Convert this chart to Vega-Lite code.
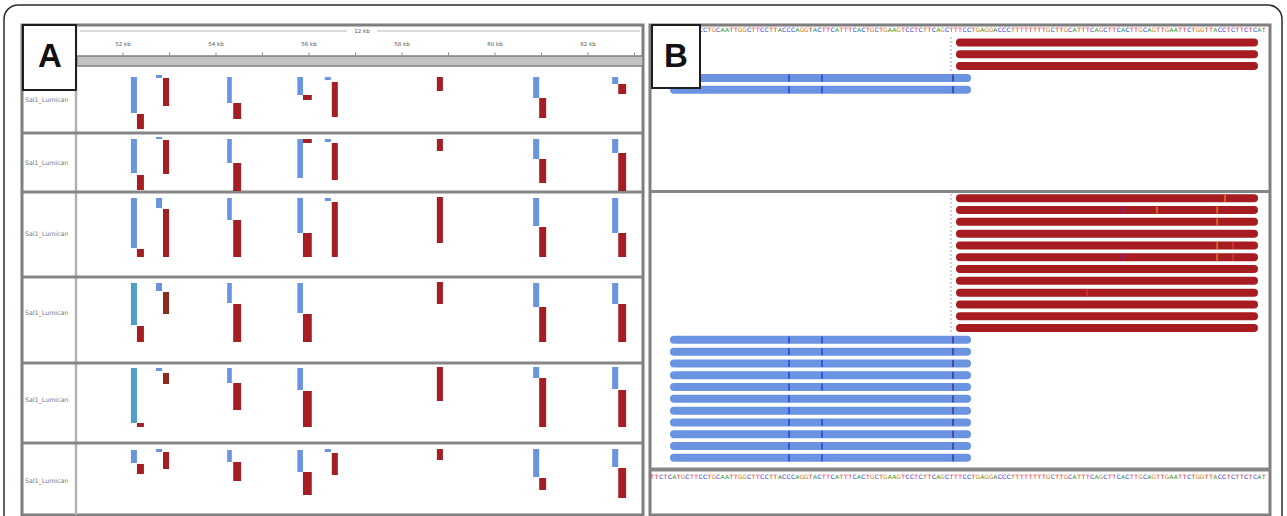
{
"$schema":"https://vega.github.io/schema/vega-lite/v6.json",
"width":1287,"height":516,"autosize":"none","padding":0,"background":"white",
"config":{"view":{"stroke":null},"text":{"font":"DejaVu Sans"}},
"datasets":{
"ruler":[{"kb":52,"lab":"52 kb"},{"kb":53,"lab":""},{"kb":54,"lab":"54 kb"},{"kb":55,"lab":""},{"kb":56,"lab":"56 kb"},{"kb":57,"lab":""},{"kb":58,"lab":"58 kb"},{"kb":59,"lab":""},{"kb":60,"lab":"60 kb"},{"kb":61,"lab":""},{"kb":62,"lab":"62 kb"},{"kb":63,"lab":""}],
"tracks":[{"track":1,"label":"Sal1_Lumican","bottom":13.4,"mid":6.8},{"track":2,"label":"Sal1_Lumican","bottom":25.2,"mid":19.4},{"track":3,"label":"Sal1_Lumican","bottom":42.2,"mid":33.6},{"track":4,"label":"Sal1_Lumican","bottom":59.4,"mid":49.4},{"track":5,"label":"Sal1_Lumican","bottom":75.4,"mid":66.8},{"track":6,"label":"Sal1_Lumican","bottom":89.8,"mid":83.0}],
"bars":[
{"t":1,"x0":52.17,"x1":52.3,"y0":2.2,"y1":9.4,"c":"F"},{"t":1,"x0":52.3,"x1":52.45,"y0":9.6,"y1":12.6,"c":"R"},{"t":1,"x0":52.71,"x1":52.84,"y0":1.8,"y1":2.4,"c":"F"},{"t":1,"x0":52.86,"x1":52.99,"y0":2.4,"y1":8.0,"c":"R"},{"t":1,"x0":54.24,"x1":54.34,"y0":2.2,"y1":7.4,"c":"F"},{"t":1,"x0":54.37,"x1":54.54,"y0":7.4,"y1":10.6,"c":"R"},{"t":1,"x0":55.75,"x1":55.87,"y0":2.2,"y1":5.8,"c":"F"},{"t":1,"x0":55.87,"x1":56.06,"y0":5.8,"y1":6.8,"c":"R"},{"t":1,"x0":56.34,"x1":56.47,"y0":2.2,"y1":2.8,"c":"F"},{"t":1,"x0":56.49,"x1":56.62,"y0":3.2,"y1":10.2,"c":"R"},{"t":1,"x0":58.75,"x1":58.88,"y0":2.2,"y1":5.0,"c":"R"},{"t":1,"x0":60.82,"x1":60.95,"y0":2.2,"y1":6.4,"c":"F"},{"t":1,"x0":60.95,"x1":61.1,"y0":6.4,"y1":10.4,"c":"R"},{"t":1,"x0":62.52,"x1":62.65,"y0":2.2,"y1":3.6,"c":"F"},{"t":1,"x0":62.65,"x1":62.82,"y0":3.6,"y1":5.6,"c":"R"},
{"t":2,"x0":52.17,"x1":52.3,"y0":14.6,"y1":21.4,"c":"F"},{"t":2,"x0":52.3,"x1":52.45,"y0":21.8,"y1":24.8,"c":"R"},{"t":2,"x0":52.71,"x1":52.84,"y0":14.2,"y1":14.6,"c":"F"},{"t":2,"x0":52.86,"x1":52.99,"y0":14.8,"y1":21.6,"c":"R"},{"t":2,"x0":54.24,"x1":54.34,"y0":14.6,"y1":19.4,"c":"F"},{"t":2,"x0":54.37,"x1":54.54,"y0":19.4,"y1":25.0,"c":"R"},{"t":2,"x0":55.75,"x1":55.87,"y0":14.6,"y1":22.4,"c":"F"},{"t":2,"x0":55.87,"x1":56.06,"y0":14.6,"y1":15.4,"c":"R"},{"t":2,"x0":56.34,"x1":56.47,"y0":14.6,"y1":15.2,"c":"F"},{"t":2,"x0":56.49,"x1":56.62,"y0":15.4,"y1":22.8,"c":"R"},{"t":2,"x0":58.75,"x1":58.88,"y0":14.6,"y1":17.0,"c":"R"},{"t":2,"x0":60.82,"x1":60.95,"y0":14.6,"y1":18.6,"c":"F"},{"t":2,"x0":60.95,"x1":61.1,"y0":18.6,"y1":23.4,"c":"R"},{"t":2,"x0":62.52,"x1":62.65,"y0":14.6,"y1":17.4,"c":"F"},{"t":2,"x0":62.65,"x1":62.82,"y0":17.4,"y1":25.0,"c":"R"},
{"t":3,"x0":52.17,"x1":52.3,"y0":26.4,"y1":36.4,"c":"F"},{"t":3,"x0":52.3,"x1":52.45,"y0":36.6,"y1":38.2,"c":"R"},{"t":3,"x0":52.71,"x1":52.84,"y0":26.4,"y1":28.4,"c":"F"},{"t":3,"x0":52.86,"x1":52.99,"y0":28.6,"y1":38.2,"c":"R"},{"t":3,"x0":54.24,"x1":54.34,"y0":26.4,"y1":30.8,"c":"F"},{"t":3,"x0":54.37,"x1":54.54,"y0":30.8,"y1":38.2,"c":"R"},{"t":3,"x0":55.75,"x1":55.87,"y0":26.4,"y1":33.4,"c":"F"},{"t":3,"x0":55.87,"x1":56.06,"y0":33.4,"y1":38.2,"c":"R"},{"t":3,"x0":56.34,"x1":56.47,"y0":26.4,"y1":27.0,"c":"F"},{"t":3,"x0":56.49,"x1":56.62,"y0":27.2,"y1":38.2,"c":"R"},{"t":3,"x0":58.75,"x1":58.88,"y0":26.2,"y1":35.4,"c":"R"},{"t":3,"x0":60.82,"x1":60.95,"y0":26.4,"y1":32.0,"c":"F"},{"t":3,"x0":60.95,"x1":61.1,"y0":32.2,"y1":38.2,"c":"R"},{"t":3,"x0":62.52,"x1":62.65,"y0":26.4,"y1":33.4,"c":"F"},{"t":3,"x0":62.65,"x1":62.82,"y0":33.4,"y1":38.2,"c":"R"},
{"t":4,"x0":52.17,"x1":52.3,"y0":43.4,"y1":51.8,"c":"F2"},{"t":4,"x0":52.3,"x1":52.45,"y0":52.0,"y1":55.2,"c":"R"},{"t":4,"x0":52.71,"x1":52.84,"y0":43.4,"y1":45.0,"c":"F"},{"t":4,"x0":52.86,"x1":52.99,"y0":45.2,"y1":49.6,"c":"R2"},{"t":4,"x0":54.24,"x1":54.34,"y0":43.4,"y1":47.4,"c":"F"},{"t":4,"x0":54.37,"x1":54.54,"y0":47.6,"y1":55.2,"c":"R"},{"t":4,"x0":55.75,"x1":55.87,"y0":43.4,"y1":49.4,"c":"F"},{"t":4,"x0":55.87,"x1":56.06,"y0":49.6,"y1":55.2,"c":"R"},{"t":4,"x0":58.75,"x1":58.88,"y0":43.2,"y1":47.6,"c":"R"},{"t":4,"x0":60.82,"x1":60.95,"y0":43.4,"y1":48.2,"c":"F"},{"t":4,"x0":60.95,"x1":61.1,"y0":48.2,"y1":55.2,"c":"R"},{"t":4,"x0":62.52,"x1":62.65,"y0":43.4,"y1":47.6,"c":"F"},{"t":4,"x0":62.65,"x1":62.82,"y0":47.6,"y1":55.2,"c":"R"},
{"t":5,"x0":52.17,"x1":52.3,"y0":60.4,"y1":71.4,"c":"F2"},{"t":5,"x0":52.3,"x1":52.45,"y0":71.4,"y1":72.2,"c":"R"},{"t":5,"x0":52.71,"x1":52.84,"y0":60.4,"y1":61.0,"c":"F"},{"t":5,"x0":52.86,"x1":52.99,"y0":61.4,"y1":63.6,"c":"R2"},{"t":5,"x0":54.24,"x1":54.34,"y0":60.4,"y1":63.4,"c":"F"},{"t":5,"x0":54.37,"x1":54.54,"y0":63.4,"y1":68.8,"c":"R"},{"t":5,"x0":55.75,"x1":55.87,"y0":60.4,"y1":64.8,"c":"F"},{"t":5,"x0":55.87,"x1":56.06,"y0":65.0,"y1":72.2,"c":"R"},{"t":5,"x0":58.75,"x1":58.88,"y0":60.2,"y1":67.0,"c":"R"},{"t":5,"x0":60.82,"x1":60.95,"y0":60.2,"y1":62.4,"c":"F"},{"t":5,"x0":60.95,"x1":61.1,"y0":62.4,"y1":72.2,"c":"R"},{"t":5,"x0":62.52,"x1":62.65,"y0":60.2,"y1":64.6,"c":"F"},{"t":5,"x0":62.65,"x1":62.82,"y0":64.8,"y1":72.2,"c":"R"},
{"t":6,"x0":52.17,"x1":52.3,"y0":76.8,"y1":79.4,"c":"F"},{"t":6,"x0":52.3,"x1":52.45,"y0":79.6,"y1":81.6,"c":"R"},{"t":6,"x0":52.71,"x1":52.84,"y0":76.6,"y1":77.2,"c":"F"},{"t":6,"x0":52.86,"x1":52.99,"y0":77.2,"y1":80.6,"c":"R"},{"t":6,"x0":54.24,"x1":54.34,"y0":76.8,"y1":79.2,"c":"F"},{"t":6,"x0":54.37,"x1":54.54,"y0":79.2,"y1":83.0,"c":"R"},{"t":6,"x0":55.75,"x1":55.87,"y0":76.8,"y1":81.2,"c":"F"},{"t":6,"x0":55.87,"x1":56.06,"y0":81.2,"y1":85.8,"c":"R"},{"t":6,"x0":56.34,"x1":56.47,"y0":76.6,"y1":77.2,"c":"F"},{"t":6,"x0":56.49,"x1":56.62,"y0":77.4,"y1":81.8,"c":"R"},{"t":6,"x0":58.75,"x1":58.88,"y0":76.6,"y1":78.8,"c":"R"},{"t":6,"x0":60.82,"x1":60.95,"y0":76.6,"y1":82.2,"c":"F"},{"t":6,"x0":60.95,"x1":61.1,"y0":82.4,"y1":84.8,"c":"R"},{"t":6,"x0":62.52,"x1":62.65,"y0":76.6,"y1":80.2,"c":"F"},{"t":6,"x0":62.65,"x1":62.82,"y0":80.4,"y1":86.4,"c":"R"}
],
"seq":[{"i":1,"b":"T"},{"i":2,"b":"T"},{"i":3,"b":"C"},{"i":4,"b":"T"},{"i":5,"b":"C"},{"i":6,"b":"A"},{"i":7,"b":"T"},{"i":8,"b":"G"},{"i":9,"b":"C"},{"i":10,"b":"T"},{"i":11,"b":"T"},{"i":12,"b":"C"},{"i":13,"b":"C"},{"i":14,"b":"T"},{"i":15,"b":"G"},{"i":16,"b":"C"},{"i":17,"b":"A"},{"i":18,"b":"A"},{"i":19,"b":"T"},{"i":20,"b":"T"},{"i":21,"b":"G"},{"i":22,"b":"G"},{"i":23,"b":"C"},{"i":24,"b":"T"},{"i":25,"b":"T"},{"i":26,"b":"C"},{"i":27,"b":"C"},{"i":28,"b":"T"},{"i":29,"b":"T"},{"i":30,"b":"A"},{"i":31,"b":"C"},{"i":32,"b":"C"},{"i":33,"b":"C"},{"i":34,"b":"A"},{"i":35,"b":"G"},{"i":36,"b":"G"},{"i":37,"b":"T"},{"i":38,"b":"A"},{"i":39,"b":"C"},{"i":40,"b":"T"},{"i":41,"b":"T"},{"i":42,"b":"C"},{"i":43,"b":"A"},{"i":44,"b":"T"},{"i":45,"b":"T"},{"i":46,"b":"T"},{"i":47,"b":"C"},{"i":48,"b":"A"},{"i":49,"b":"C"},{"i":50,"b":"T"},{"i":51,"b":"G"},{"i":52,"b":"C"},{"i":53,"b":"T"},{"i":54,"b":"G"},{"i":55,"b":"A"},{"i":56,"b":"A"},{"i":57,"b":"G"},{"i":58,"b":"T"},{"i":59,"b":"C"},{"i":60,"b":"C"},{"i":61,"b":"T"},{"i":62,"b":"C"},{"i":63,"b":"T"},{"i":64,"b":"T"},{"i":65,"b":"C"},{"i":66,"b":"A"},{"i":67,"b":"G"},{"i":68,"b":"C"},{"i":69,"b":"T"},{"i":70,"b":"T"},{"i":71,"b":"T"},{"i":72,"b":"C"},{"i":73,"b":"C"},{"i":74,"b":"T"},{"i":75,"b":"G"},{"i":76,"b":"A"},{"i":77,"b":"G"},{"i":78,"b":"G"},{"i":79,"b":"A"},{"i":80,"b":"C"},{"i":81,"b":"C"},{"i":82,"b":"C"},{"i":83,"b":"T"},{"i":84,"b":"T"},{"i":85,"b":"T"},{"i":86,"b":"T"},{"i":87,"b":"T"},{"i":88,"b":"T"},{"i":89,"b":"T"},{"i":90,"b":"T"},{"i":91,"b":"G"},{"i":92,"b":"C"},{"i":93,"b":"T"},{"i":94,"b":"T"},{"i":95,"b":"G"},{"i":96,"b":"C"},{"i":97,"b":"A"},{"i":98,"b":"T"},{"i":99,"b":"T"},{"i":100,"b":"T"},{"i":101,"b":"C"},{"i":102,"b":"A"},{"i":103,"b":"G"},{"i":104,"b":"C"},{"i":105,"b":"T"},{"i":106,"b":"T"},{"i":107,"b":"C"},{"i":108,"b":"A"},{"i":109,"b":"C"},{"i":110,"b":"T"},{"i":111,"b":"T"},{"i":112,"b":"G"},{"i":113,"b":"C"},{"i":114,"b":"A"},{"i":115,"b":"G"},{"i":116,"b":"T"},{"i":117,"b":"T"},{"i":118,"b":"G"},{"i":119,"b":"A"},{"i":120,"b":"A"},{"i":121,"b":"T"},{"i":122,"b":"T"},{"i":123,"b":"C"},{"i":124,"b":"T"},{"i":125,"b":"G"},{"i":126,"b":"G"},{"i":127,"b":"T"},{"i":128,"b":"T"},{"i":129,"b":"A"},{"i":130,"b":"C"},{"i":131,"b":"C"},{"i":132,"b":"T"},{"i":133,"b":"C"},{"i":134,"b":"T"},{"i":135,"b":"T"},{"i":136,"b":"C"},{"i":137,"b":"T"},{"i":138,"b":"C"},{"i":139,"b":"A"},{"i":140,"b":"T"}],
"reads":[{"lane":1,"start":70.95,"end":137.77,"s":"R"},{"lane":2,"start":70.95,"end":137.77,"s":"R"},{"lane":3,"start":70.95,"end":137.77,"s":"R"},{"lane":4,"start":5.95,"end":72.55,"s":"F"},{"lane":5,"start":5.95,"end":72.55,"s":"F"},
{"lane":14.2,"start":70.95,"end":137.77,"s":"R"},{"lane":15.2,"start":70.95,"end":137.77,"s":"R"},{"lane":16.2,"start":70.95,"end":137.77,"s":"R"},{"lane":17.2,"start":70.95,"end":137.77,"s":"R"},{"lane":18.2,"start":70.95,"end":137.77,"s":"R"},{"lane":19.2,"start":70.95,"end":137.77,"s":"R"},{"lane":20.2,"start":70.95,"end":137.77,"s":"R"},{"lane":21.2,"start":70.95,"end":137.77,"s":"R"},{"lane":22.2,"start":70.95,"end":137.77,"s":"R"},{"lane":23.2,"start":70.95,"end":137.77,"s":"R"},{"lane":24.2,"start":70.95,"end":137.77,"s":"R"},{"lane":25.2,"start":70.95,"end":137.77,"s":"R"},
{"lane":26.2,"start":5.95,"end":72.55,"s":"F"},{"lane":27.2,"start":5.95,"end":72.55,"s":"F"},{"lane":28.2,"start":5.95,"end":72.55,"s":"F"},{"lane":29.2,"start":5.95,"end":72.55,"s":"F"},{"lane":30.2,"start":5.95,"end":72.55,"s":"F"},{"lane":31.2,"start":5.95,"end":72.55,"s":"F"},{"lane":32.2,"start":5.95,"end":72.55,"s":"F"},{"lane":33.2,"start":5.95,"end":72.55,"s":"F"},{"lane":34.2,"start":5.95,"end":72.55,"s":"F"},{"lane":35.2,"start":5.95,"end":72.55,"s":"F"},{"lane":36.2,"start":5.95,"end":72.55,"s":"F"}],
"marks":[
{"lane":4,"bp":32.09,"k":"C"},{"lane":4,"bp":39.59,"k":"C"},{"lane":4,"bp":69.36,"k":"I"},{"lane":5,"bp":32.09,"k":"C"},{"lane":5,"bp":39.59,"k":"C"},{"lane":5,"bp":69.36,"k":"I"},
{"lane":26.2,"bp":32.09,"k":"C"},{"lane":26.2,"bp":39.59,"k":"C"},{"lane":26.2,"bp":69.36,"k":"I"},
{"lane":27.2,"bp":32.09,"k":"C"},{"lane":27.2,"bp":39.59,"k":"C"},{"lane":27.2,"bp":69.36,"k":"I"},
{"lane":28.2,"bp":32.09,"k":"C"},{"lane":28.2,"bp":39.59,"k":"C"},{"lane":28.2,"bp":69.36,"k":"I"},
{"lane":29.2,"bp":32.09,"k":"C"},{"lane":29.2,"bp":39.59,"k":"C"},{"lane":29.2,"bp":69.36,"k":"I"},
{"lane":30.2,"bp":32.09,"k":"C"},{"lane":30.2,"bp":39.59,"k":"C"},{"lane":30.2,"bp":69.36,"k":"I"},
{"lane":31.2,"bp":32.09,"k":"C"},{"lane":31.2,"bp":69.36,"k":"I"},
{"lane":32.2,"bp":32.09,"k":"C"},{"lane":32.2,"bp":69.36,"k":"I"},
{"lane":33.2,"bp":32.09,"k":"C"},{"lane":33.2,"bp":39.59,"k":"C"},{"lane":33.2,"bp":69.36,"k":"I"},
{"lane":34.2,"bp":32.09,"k":"C"},{"lane":34.2,"bp":39.59,"k":"C"},{"lane":34.2,"bp":69.36,"k":"I"},
{"lane":35.2,"bp":32.09,"k":"C"},{"lane":35.2,"bp":39.59,"k":"C"},{"lane":35.2,"bp":69.36,"k":"I"},
{"lane":36.2,"bp":32.09,"k":"C"},{"lane":36.2,"bp":39.59,"k":"C"},{"lane":36.2,"bp":69.36,"k":"I"},
{"lane":14.2,"bp":131.2,"k":"G"},
{"lane":15.2,"bp":108.0,"k":"P"},{"lane":15.2,"bp":115.7,"k":"G"},{"lane":15.2,"bp":129.4,"k":"G"},
{"lane":16.2,"bp":129.4,"k":"G"},
{"lane":18.2,"bp":129.4,"k":"G"},{"lane":18.2,"bp":133.0,"k":"T"},
{"lane":19.2,"bp":108.0,"k":"P"},{"lane":19.2,"bp":129.4,"k":"G"},{"lane":19.2,"bp":133.0,"k":"T"},
{"lane":22.2,"bp":99.8,"k":"T"}
]
},
"layer":[
{
"layer":[
{"data":{"values":[{}]},"mark":{"type":"rect","fill":"transparent","stroke":"#2b2b2b","strokeWidth":1.5,"cornerRadius":14},
 "encoding":{"x":{"datum":49.441,"type":"quantitative","scale":{"domain":[49.3548,77.0323],"nice":false,"zero":false},"axis":null},"x2":{"datum":76.925},
 "y":{"datum":-12.2,"type":"quantitative","scale":{"domain":[-13.2,90],"reverse":true,"nice":false,"zero":false},"axis":null},"y2":{"datum":95.8}}},
{"data":{"values":[{}]},"mark":{"type":"rect","fill":"white","stroke":"#7f7f7f","strokeWidth":3},
 "encoding":{"x":{"datum":49.828,"type":"quantitative","scale":{"domain":[49.3548,77.0323],"nice":false,"zero":false},"axis":null},"x2":{"datum":63.183},
 "y":{"datum":-8.2,"type":"quantitative","scale":{"domain":[-13.2,90],"reverse":true,"nice":false,"zero":false},"axis":null},"y2":{"datum":89.8}}},
{"data":{"values":[{}]},"mark":{"type":"rect","fill":"#c2c2c2","stroke":"#7f7f7f","strokeWidth":1.5},
 "encoding":{"x":{"datum":51.011,"type":"quantitative","scale":{"domain":[49.3548,77.0323],"nice":false,"zero":false},"axis":null},"x2":{"datum":63.183},
 "y":{"datum":-2,"type":"quantitative","scale":{"domain":[-13.2,90],"reverse":true,"nice":false,"zero":false},"axis":null},"y2":{"datum":0}}},
{"data":{"values":[{"a":51.075,"b":56.817},{"a":57.462,"b":63.118}]},"mark":{"type":"rule","color":"#b5b5b5","strokeWidth":1.2},
 "encoding":{"x":{"field":"a","type":"quantitative","scale":{"domain":[49.3548,77.0323],"nice":false,"zero":false},"axis":null},"x2":{"field":"b"},
 "y":{"datum":-7.0,"type":"quantitative","scale":{"domain":[-13.2,90],"reverse":true,"nice":false,"zero":false},"axis":null}}},
{"data":{"values":[{"span":"12 kb"}]},"mark":{"type":"text","fontSize":5.5,"color":"#555","baseline":"middle","align":"center"},
 "encoding":{"x":{"datum":57.14,"type":"quantitative","scale":{"domain":[49.3548,77.0323],"nice":false,"zero":false},"axis":null},
 "y":{"datum":-7.0,"type":"quantitative","scale":{"domain":[-13.2,90],"reverse":true,"nice":false,"zero":false},"axis":null},"text":{"field":"span"}}},
{"data":{"name":"ruler"},"mark":{"type":"rule","color":"#8a8a8a","strokeWidth":1},
 "encoding":{"x":{"field":"kb","type":"quantitative","scale":{"domain":[49.3548,77.0323],"nice":false,"zero":false},"axis":null},
 "y":{"datum":-2.7,"type":"quantitative","scale":{"domain":[-13.2,90],"reverse":true,"nice":false,"zero":false},"axis":null},"y2":{"datum":-2.1}}},
{"data":{"name":"ruler"},"mark":{"type":"text","fontSize":5.5,"color":"#555","baseline":"middle","align":"center"},
 "encoding":{"x":{"field":"kb","type":"quantitative","scale":{"domain":[49.3548,77.0323],"nice":false,"zero":false},"axis":null},
 "y":{"datum":-4.4,"type":"quantitative","scale":{"domain":[-13.2,90],"reverse":true,"nice":false,"zero":false},"axis":null},"text":{"field":"lab"}}},
{"data":{"values":[{}]},"mark":{"type":"rule","color":"#b3b3b3","strokeWidth":2.5},
 "encoding":{"x":{"datum":50.989,"type":"quantitative","scale":{"domain":[49.3548,77.0323],"nice":false,"zero":false},"axis":null},
 "y":{"datum":-8.2,"type":"quantitative","scale":{"domain":[-13.2,90],"reverse":true,"nice":false,"zero":false},"axis":null},"y2":{"datum":89.8}}},
{"data":{"name":"tracks"},"transform":[{"filter":"datum.track < 6"}],"mark":{"type":"rule","color":"#868686","strokeWidth":3},
 "encoding":{"x":{"datum":49.828,"type":"quantitative","scale":{"domain":[49.3548,77.0323],"nice":false,"zero":false},"axis":null},"x2":{"datum":63.183},
 "y":{"field":"bottom","type":"quantitative","scale":{"domain":[-13.2,90],"reverse":true,"nice":false,"zero":false},"axis":null}}},
{"data":{"name":"tracks"},"mark":{"type":"text","fontSize":6.3,"color":"#7a7a7a","align":"left","baseline":"middle"},
 "encoding":{"x":{"datum":49.892,"type":"quantitative","scale":{"domain":[49.3548,77.0323],"nice":false,"zero":false},"axis":null},
 "y":{"field":"mid","type":"quantitative","scale":{"domain":[-13.2,90],"reverse":true,"nice":false,"zero":false},"axis":null},"text":{"field":"label"}}},
{"data":{"name":"bars"},"mark":{"type":"rect"},
 "encoding":{"x":{"field":"x0","type":"quantitative","scale":{"domain":[49.3548,77.0323],"nice":false,"zero":false},"axis":null},
  "x2":{"field":"x1"},
  "y":{"field":"y0","type":"quantitative","scale":{"domain":[-13.2,90],"reverse":true,"nice":false,"zero":false},"axis":null},"y2":{"field":"y1"},
  "color":{"field":"c","type":"nominal","scale":{"domain":["F","R","F2","R2"],"range":["#6894e0","#a51e23","#4f9dc8","#8b2b1f"]},"legend":null}}},
{"data":{"values":[{}]},"mark":{"type":"rect","fill":"white","stroke":"#1e1e1e","strokeWidth":2},
 "encoding":{"x":{"datum":49.849,"type":"quantitative","scale":{"domain":[49.3548,77.0323],"nice":false,"zero":false},"axis":null},"x2":{"datum":50.989},
 "y":{"datum":-8.2,"type":"quantitative","scale":{"domain":[-13.2,90],"reverse":true,"nice":false,"zero":false},"axis":null},"y2":{"datum":4.8}}},
{"data":{"values":[{"panel":"A"}]},"mark":{"type":"text","fontSize":33,"fontWeight":"bold","font":"Liberation Sans","color":"#111","align":"center","baseline":"alphabetic"},
 "encoding":{"x":{"datum":50.43,"type":"quantitative","scale":{"domain":[49.3548,77.0323],"nice":false,"zero":false},"axis":null},
 "y":{"datum":0.2,"type":"quantitative","scale":{"domain":[-13.2,90],"reverse":true,"nice":false,"zero":false},"axis":null},"text":{"field":"panel"}}}
]
},
{
"resolve":{"scale":{"color":"independent"}},
"layer":[
{"data":{"values":[{}]},"mark":{"type":"rect","fill":"white","stroke":"#7f7f7f","strokeWidth":3},
 "encoding":{"x":{"datum":0.5,"type":"quantitative","scale":{"domain":[-147.2273,145.2727],"nice":false,"zero":false},"axis":null},"x2":{"datum":141.409},
 "y":{"datum":-0.483,"type":"quantitative","scale":{"domain":[-2.6017,41.1271],"reverse":true,"nice":false,"zero":false},"axis":null},"y2":{"datum":41.042}}},
{"data":{"values":[{}]},"mark":{"type":"rule","color":"#868686","strokeWidth":3},
 "encoding":{"x":{"datum":0.5,"type":"quantitative","scale":{"domain":[-147.2273,145.2727],"nice":false,"zero":false},"axis":null},"x2":{"datum":141.409},
 "y":{"datum":13.627,"type":"quantitative","scale":{"domain":[-2.6017,41.1271],"reverse":true,"nice":false,"zero":false},"axis":null}}},
{"data":{"values":[{}]},"mark":{"type":"rule","color":"#868686","strokeWidth":4},
 "encoding":{"x":{"datum":0.5,"type":"quantitative","scale":{"domain":[-147.2273,145.2727],"nice":false,"zero":false},"axis":null},"x2":{"datum":141.409},
 "y":{"datum":37.186,"type":"quantitative","scale":{"domain":[-2.6017,41.1271],"reverse":true,"nice":false,"zero":false},"axis":null}}},
{"data":{"values":[{"a":0.534,"b":3.5},{"a":13.84,"b":25.62}]},"mark":{"type":"rule","color":"#a0a0a0","strokeWidth":1,"strokeDash":[2,2]},
 "encoding":{"x":{"datum":68.909,"type":"quantitative","scale":{"domain":[-147.2273,145.2727],"nice":false,"zero":false},"axis":null},
 "y":{"field":"a","type":"quantitative","scale":{"domain":[-2.6017,41.1271],"reverse":true,"nice":false,"zero":false},"axis":null},"y2":{"field":"b"}}},
{"data":{"name":"seq"},"mark":{"type":"text","fontSize":6,"baseline":"middle","align":"center"},
 "encoding":{"x":{"field":"i","type":"quantitative","scale":{"domain":[-147.2273,145.2727],"nice":false,"zero":false},"axis":null},
 "y":{"datum":-0.017,"type":"quantitative","scale":{"domain":[-2.6017,41.1271],"reverse":true,"nice":false,"zero":false},"axis":null},
 "text":{"field":"b"},"color":{"field":"b","type":"nominal","scale":{"domain":["A","C","G","T"],"range":["#1a9a1a","#2b2bf0","#d07a10","#e02525"]},"legend":null}}},
{"data":{"name":"seq"},"mark":{"type":"text","fontSize":6,"baseline":"middle","align":"center"},
 "encoding":{"x":{"field":"i","type":"quantitative","scale":{"domain":[-147.2273,145.2727],"nice":false,"zero":false},"axis":null},
 "y":{"datum":37.78,"type":"quantitative","scale":{"domain":[-2.6017,41.1271],"reverse":true,"nice":false,"zero":false},"axis":null},
 "text":{"field":"b"},"color":{"field":"b","type":"nominal","scale":{"domain":["A","C","G","T"],"range":["#1a9a1a","#2b2bf0","#d07a10","#e02525"]},"legend":null}}},
{"data":{"name":"reads"},"mark":{"type":"rule","strokeWidth":8,"strokeCap":"round"},
 "encoding":{"x":{"field":"start","type":"quantitative","scale":{"domain":[-147.2273,145.2727],"nice":false,"zero":false},"axis":null},"x2":{"field":"end"},
 "y":{"field":"lane","type":"quantitative","scale":{"domain":[-2.6017,41.1271],"reverse":true,"nice":false,"zero":false},"axis":null},
 "color":{"field":"s","type":"nominal","scale":{"domain":["F","R"],"range":["#6a93e2","#a61c20"]},"legend":null}}},
{"data":{"name":"marks"},"mark":{"type":"tick","orient":"vertical","size":7,"thickness":2},
 "encoding":{"x":{"field":"bp","type":"quantitative","scale":{"domain":[-147.2273,145.2727],"nice":false,"zero":false},"axis":null},
 "y":{"field":"lane","type":"quantitative","scale":{"domain":[-2.6017,41.1271],"reverse":true,"nice":false,"zero":false},"axis":null},
 "color":{"field":"k","type":"nominal","scale":{"domain":["C","I","P","G","T"],"range":["#1f3fd8","#34308f","#7d22b5","#d98a2b","#e03535"]},"legend":null}}},
{"data":{"values":[{}]},"mark":{"type":"rect","fill":"white","stroke":"#1e1e1e","strokeWidth":2},
 "encoding":{"x":{"datum":0.955,"type":"quantitative","scale":{"domain":[-147.2273,145.2727],"nice":false,"zero":false},"axis":null},"x2":{"datum":11.864},
 "y":{"datum":-0.483,"type":"quantitative","scale":{"domain":[-2.6017,41.1271],"reverse":true,"nice":false,"zero":false},"axis":null},"y2":{"datum":4.856}}},
{"data":{"values":[{"panel":"B"}]},"mark":{"type":"text","fontSize":33,"fontWeight":"bold","font":"Liberation Sans","color":"#111","align":"center","baseline":"alphabetic"},
 "encoding":{"x":{"datum":6.409,"type":"quantitative","scale":{"domain":[-147.2273,145.2727],"nice":false,"zero":false},"axis":null},
 "y":{"datum":3.1,"type":"quantitative","scale":{"domain":[-2.6017,41.1271],"reverse":true,"nice":false,"zero":false},"axis":null},"text":{"field":"panel"}}}
]
}
],
"resolve":{"scale":{"x":"independent","y":"independent","color":"independent"}}
}
